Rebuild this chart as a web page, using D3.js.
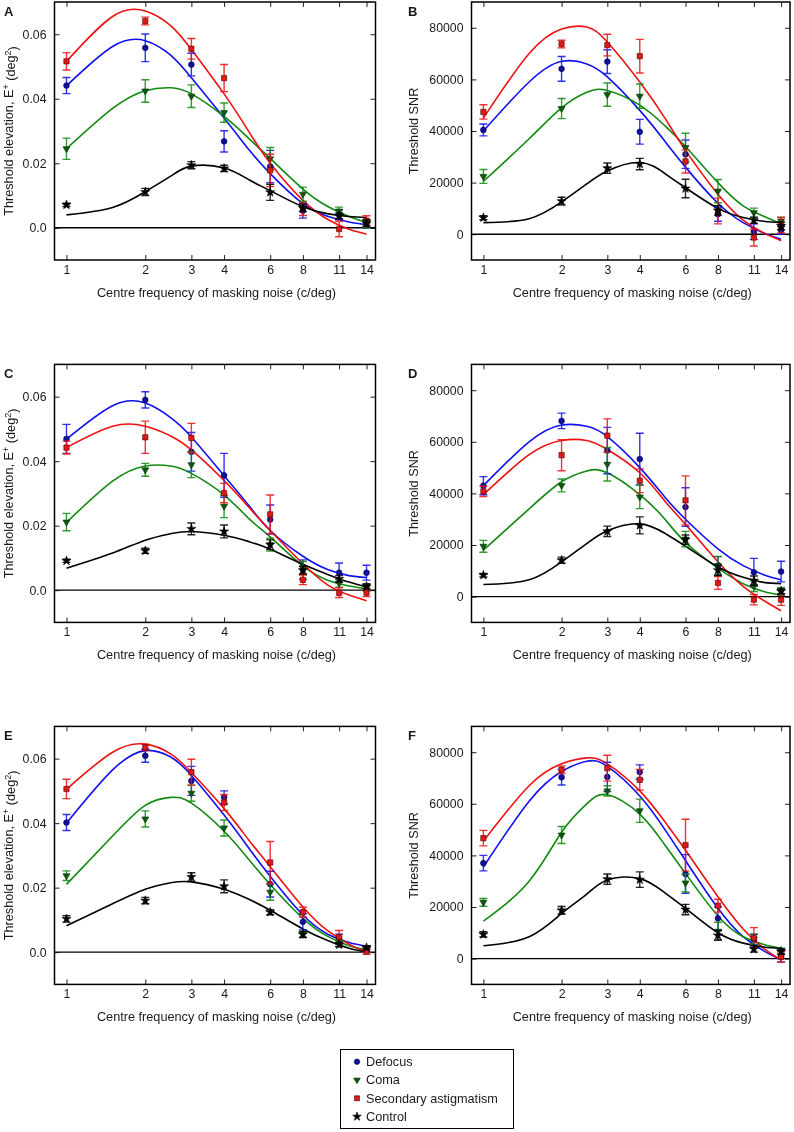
<!DOCTYPE html>
<html><head><meta charset="utf-8">
<script src="https://cdn.jsdelivr.net/npm/d3@7"></script>
<style>
html,body{margin:0;padding:0;background:#fff;}
svg{will-change:transform;}
svg text{font-family:"Liberation Sans",Arial,sans-serif;fill:#1a1a1a;}
</style></head>
<body>
<svg id="chart" width="794" height="1132"></svg>
<script>
// ---------- data ----------
const freqs = [1, 2, 3, 4, 6, 8, 11, 14];
const fitFreqs = [1, 1.5, 2, 2.5, 3, 4, 5, 6, 8, 10, 12, 14];
const xTickValues = [1, 2, 3, 4, 6, 8, 11, 14];
const elevTicks = [0, 0.02, 0.04, 0.06];
const elevTickLabels = ["0.0", "0.02", "0.04", "0.06"];
const snrTicks = [0, 20000, 40000, 60000, 80000];
const snrTickLabels = ["0", "20000", "40000", "60000", "80000"];
const seriesNames = ["Defocus", "Coma", "Secondary astigmatism", "Control"];
const panelLetters = ["A", "B", "C", "D", "E", "F"];
const xTitle = "Centre frequency of masking noise (c/deg)";
const snrTitle = "Threshold SNR";

// Panel A (threshold elevation)
const aDefocus = [0.0441, 0.0558, 0.0506, 0.0268, 0.0190, 0.0053, 0.0040, 0.0012];
const aDefocusErr = [0.0025, 0.0043, 0.0035, 0.0033, 0.0050, 0.0023, 0.0015, 0.0012];
const aComa = [0.0245, 0.0424, 0.0408, 0.0357, 0.0214, 0.0104, 0.0052, 0.0012];
const aComaErr = [0.0033, 0.0035, 0.0035, 0.0030, 0.0035, 0.0022, 0.0012, 0.0012];
const aAstig = [0.0516, 0.0641, 0.0555, 0.0464, 0.0178, 0.0058, -0.0004, 0.0022];
const aAstigErr = [0.0027, 0.0012, 0.0032, 0.0042, 0.0050, 0.0020, 0.0024, 0.0015];
const aControl = [0.0071, 0.0111, 0.0194, 0.0184, 0.0110, 0.0061, 0.0037, 0.0014];
const aControlErr = [0.0005, 0.0011, 0.0011, 0.0010, 0.0025, 0.0011, 0.0009, 0.0010];
const aDefocusFit = [0.0440, 0.0562, 0.0580, 0.0535, 0.0465, 0.0340, 0.0240, 0.0168, 0.0075, 0.0035, 0.0018, 0.0010];
const aComaFit = [0.0245, 0.0370, 0.0425, 0.0434, 0.0415, 0.0345, 0.0275, 0.0215, 0.0120, 0.0065, 0.0035, 0.0017];
const aAstigFit = [0.0516, 0.0655, 0.0672, 0.0627, 0.0553, 0.0415, 0.0295, 0.0200, 0.0085, 0.0025, -0.0005, -0.0020];
const aControlFit = [0.0040, 0.0063, 0.0112, 0.0160, 0.0191, 0.0185, 0.0148, 0.0115, 0.0065, 0.0043, 0.0035, 0.0032];

// Panel B (SNR)
const bDefocus = [40400, 64100, 66900, 39700, 31000, 7700, 1000, 1500];
const bDefocusErr = [2300, 4800, 4600, 4800, 5500, 2700, 3000, 1500];
const bComa = [22400, 48700, 54100, 53500, 33600, 16700, 8300, 5100];
const bComaErr = [2700, 3900, 4500, 4700, 5500, 4500, 1800, 1500];
const bAstig = [47400, 73700, 73300, 69000, 28200, 9000, -1300, 3500];
const bAstigErr = [2800, 1500, 4200, 6500, 4500, 5000, 3300, 3000];
const bControl = [6400, 12800, 25600, 27200, 17700, 9200, 5400, 3200];
const bControlErr = [800, 1500, 2000, 2200, 3600, 1800, 1200, 1500];
const bDefocusFit = [40000, 59000, 67000, 66000, 61000, 48000, 36000, 26000, 12000, 4500, 500, -2000];
const bComaFit = [20500, 37000, 49000, 55000, 55700, 50000, 42000, 34000, 20000, 11000, 7000, 4000];
const bAstigFit = [45000, 70000, 79500, 80300, 74500, 59000, 45000, 32500, 15500, 5500, 500, -2500];
const bControlFit = [4500, 6000, 12500, 19500, 24500, 27800, 23500, 18000, 10000, 6500, 5000, 4500];

// Panel C (threshold elevation)
const cDefocus = [0.0469, 0.0590, 0.0429, 0.0356, 0.0219, 0.0064, 0.0054, 0.0054];
const cDefocusErr = [0.0045, 0.0025, 0.0060, 0.0068, 0.0045, 0.0030, 0.0030, 0.0023];
const cComa = [0.0211, 0.0373, 0.0389, 0.0260, 0.0141, 0.0069, 0.0021, 0.0007];
const cComaErr = [0.0027, 0.0020, 0.0040, 0.0035, 0.0020, 0.0020, 0.0012, 0.0010];
const cAstig = [0.0442, 0.0474, 0.0472, 0.0301, 0.0235, 0.0032, -0.0008, -0.0008];
const cAstigErr = [0.0020, 0.0050, 0.0045, 0.0030, 0.0060, 0.0015, 0.0015, 0.0012];
const cControl = [0.0091, 0.0122, 0.0190, 0.0182, 0.0141, 0.0062, 0.0035, 0.0012];
const cControlErr = [0.0005, 0.0008, 0.0018, 0.0020, 0.0015, 0.0012, 0.0010, 0.0008];
const cDefocusFit = [0.0468, 0.0572, 0.0580, 0.0535, 0.0475, 0.0355, 0.0260, 0.0185, 0.0105, 0.0063, 0.0045, 0.0039];
const cComaFit = [0.0210, 0.0338, 0.0385, 0.0385, 0.0362, 0.0295, 0.0220, 0.0165, 0.0075, 0.0030, 0.0013, 0.0005];
const cAstigFit = [0.0442, 0.0508, 0.0508, 0.0478, 0.0435, 0.0340, 0.0255, 0.0185, 0.0082, 0.0015, -0.0015, -0.0033];
const cControlFit = [0.0068, 0.0115, 0.0155, 0.0175, 0.0182, 0.0170, 0.0150, 0.0127, 0.0080, 0.0048, 0.0025, 0.0010];

// Panel D (SNR)
const dDefocus = [43000, 68100, 56600, 53300, 34700, 12000, 9400, 9700];
const dDefocusErr = [3500, 3000, 9000, 10000, 7500, 3500, 5400, 4000];
const dComa = [19500, 43100, 51300, 38600, 22300, 12000, 4000, 2000];
const dComaErr = [2300, 2500, 6500, 4500, 3000, 3600, 2000, 1500];
const dAstig = [40800, 54800, 62400, 44900, 37300, 5300, -1200, -1200];
const dAstigErr = [2000, 6000, 6500, 4600, 9500, 2500, 2000, 2200];
const dControl = [8300, 14100, 25300, 27600, 22100, 10200, 6200, 2100];
const dControlErr = [700, 1200, 2000, 3300, 1800, 2000, 1800, 1000];
const dDefocusFit = [43000, 60000, 66500, 66000, 62000, 50000, 38500, 30000, 18500, 12000, 8500, 6500];
const dComaFit = [18000, 34000, 44500, 48700, 48000, 39500, 30000, 21000, 11000, 5000, 2000, 500];
const dAstigFit = [39500, 55000, 60500, 60500, 57000, 48000, 37000, 28000, 13500, 4000, -1500, -5500];
const dControlFit = [4700, 6500, 13500, 20500, 25500, 28200, 24500, 19500, 11500, 7500, 5500, 5000];

// Panel E (threshold elevation)
const eDefocus = [0.0402, 0.0609, 0.0531, 0.0480, 0.0211, 0.0094, 0.0041, 0.0010];
const eDefocusErr = [0.0025, 0.0020, 0.0045, 0.0020, 0.0040, 0.0025, 0.0015, 0.0010];
const eComa = [0.0237, 0.0413, 0.0493, 0.0385, 0.0186, 0.0055, 0.0027, 0.0008];
const eComaErr = [0.0015, 0.0025, 0.0025, 0.0025, 0.0025, 0.0010, 0.0010, 0.0008];
const eAstig = [0.0506, 0.0635, 0.0558, 0.0464, 0.0278, 0.0124, 0.0047, 0.0003];
const eAstigErr = [0.0030, 0.0010, 0.0040, 0.0025, 0.0065, 0.0015, 0.0020, 0.0010];
const eControl = [0.0103, 0.0160, 0.0233, 0.0204, 0.0124, 0.0055, 0.0023, 0.0014];
const eControlErr = [0.0010, 0.0010, 0.0013, 0.0020, 0.0008, 0.0009, 0.0006, 0.0006];
const eDefocusFit = [0.0400, 0.0565, 0.0625, 0.0605, 0.0548, 0.0425, 0.0320, 0.0235, 0.0115, 0.0055, 0.0030, 0.0018];
const eComaFit = [0.0210, 0.0360, 0.0455, 0.0480, 0.0462, 0.0375, 0.0285, 0.0210, 0.0105, 0.0048, 0.0020, 0.0008];
const eAstigFit = [0.0505, 0.0620, 0.0645, 0.0615, 0.0557, 0.0445, 0.0345, 0.0265, 0.0140, 0.0065, 0.0025, 0.0000];
const eControlFit = [0.0082, 0.0150, 0.0195, 0.0215, 0.0218, 0.0195, 0.0163, 0.0130, 0.0072, 0.0035, 0.0012, 0.0001];

// Panel F (SNR)
const fDefocus = [37000, 70300, 70400, 72300, 32800, 15600, 7400, 900];
const fDefocusErr = [3000, 3000, 5700, 2800, 7500, 4500, 2000, 2200];
const fComa = [21800, 47900, 65000, 57300, 29300, 10600, 7600, 2800];
const fComaErr = [1500, 3300, 2000, 4500, 3500, 3500, 2000, 1200];
const fAstig = [46700, 73200, 73800, 69300, 44000, 20500, 8000, 650];
const fAstigErr = [3000, 1500, 5000, 4000, 10000, 2500, 4000, 2000];
const fControl = [9400, 18700, 30800, 30600, 19000, 9000, 3700, 2800];
const fControlErr = [1000, 1500, 2000, 3000, 2000, 1800, 1200, 1000];
const fDefocusFit = [35500, 61000, 72500, 76500, 74500, 63000, 50000, 38000, 19500, 8500, 3000, -500];
const fComaFit = [14500, 30000, 49000, 60000, 63500, 56000, 44000, 33000, 16500, 8500, 5500, 4000];
const fAstigFit = [45500, 67000, 75500, 77800, 75500, 65000, 53000, 42000, 24000, 11500, 4000, -500];
const fControlFit = [5000, 8500, 17500, 25000, 30500, 31000, 25500, 19500, 10000, 6000, 4500, 4000];

// ---------- assemble ----------
const panels = [
  {kind:"elev", s:[[aDefocus,aDefocusErr,aDefocusFit],[aComa,aComaErr,aComaFit],[aAstig,aAstigErr,aAstigFit],[aControl,aControlErr,aControlFit]]},
  {kind:"snr",  s:[[bDefocus,bDefocusErr,bDefocusFit],[bComa,bComaErr,bComaFit],[bAstig,bAstigErr,bAstigFit],[bControl,bControlErr,bControlFit]]},
  {kind:"elev", s:[[cDefocus,cDefocusErr,cDefocusFit],[cComa,cComaErr,cComaFit],[cAstig,cAstigErr,cAstigFit],[cControl,cControlErr,cControlFit]]},
  {kind:"snr",  s:[[dDefocus,dDefocusErr,dDefocusFit],[dComa,dComaErr,dComaFit],[dAstig,dAstigErr,dAstigFit],[dControl,dControlErr,dControlFit]]},
  {kind:"elev", s:[[eDefocus,eDefocusErr,eDefocusFit],[eComa,eComaErr,eComaFit],[eAstig,eAstigErr,eAstigFit],[eControl,eControlErr,eControlFit]]},
  {kind:"snr",  s:[[fDefocus,fDefocusErr,fDefocusFit],[fComa,fComaErr,fComaFit],[fAstig,fAstigErr,fAstigFit],[fControl,fControlErr,fControlFit]]}
];

const lineColors = ["#1010f0", "#118a11", "#ee1111", "#000000"];
const markerFill = ["#10109a", "#0d5a0d", "#e01818", "#000000"];
const markerStroke = ["#000060", "#003000", "#500000", "#000000"];

const svg = d3.select("#chart");
const colLeft = [54.5, 471.5];
const colWidth = [321, 318.5];
const rowTop = [2, 364.4, 726.4];
const plotH = 258;

function markerPath(i, scale) {
  const sc = scale || 1;
  if (i === 0) return d3.symbol(d3.symbolCircle, 26 * sc)();
  if (i === 1) return d3.symbol(d3.symbolTriangle, 21 * sc)();
  if (i === 2) return d3.symbol(d3.symbolSquare, 28 * sc)();
  return d3.symbol(d3.symbolStar, 26 * sc)();
}

panels.forEach((p, pi) => {
  const col = pi % 2, row = Math.floor(pi / 2);
  const W = colWidth[col];
  const g = svg.append("g").attr("transform", `translate(${colLeft[col]},${rowTop[row]})`);
  const x = d3.scaleLog().domain([0.9, 15.15]).range([0, W]);
  const y = p.kind === "elev"
    ? d3.scaleLinear().domain([-0.01, 0.07]).range([plotH, 0])
    : d3.scaleLinear().domain([-10000, 90000]).range([plotH, 0]);
  const ticks = p.kind === "elev" ? elevTicks : snrTicks;
  const tlabels = p.kind === "elev" ? elevTickLabels : snrTickLabels;

  const clipId = "clip" + pi;
  g.append("clipPath").attr("id", clipId).append("rect").attr("width", W).attr("height", plotH);

  // axes (inward ticks)
  const left = g.append("g").call(d3.axisLeft(y).tickValues(ticks).tickFormat((d, i) => tlabels[i]).tickSize(-5).tickPadding(8));
  const right = g.append("g").attr("transform", `translate(${W},0)`).call(d3.axisRight(y).tickValues(ticks).tickFormat("").tickSize(-5));
  const bottom = g.append("g").attr("transform", `translate(0,${plotH})`).call(d3.axisBottom(x).tickValues(xTickValues).tickFormat(d3.format("d")).tickSize(-5).tickPadding(5));
  const top = g.append("g").call(d3.axisTop(x).tickValues(xTickValues).tickFormat("").tickSize(-5));
  [left, right, bottom, top].forEach(a => {
    a.select(".domain").remove();
    a.selectAll(".tick line").attr("stroke", "#222").attr("stroke-width", 1);
    a.selectAll(".tick text").style("font-size", "12.3px").attr("fill", "#1a1a1a");
  });

  // zero line
  g.append("line").attr("x1", 0).attr("x2", W).attr("y1", y(0)).attr("y2", y(0))
    .attr("stroke", "#000").attr("stroke-width", 1.4);

  const plot = g.append("g").attr("clip-path", `url(#${clipId})`);
  const line = d3.line().x((d, i) => x(fitFreqs[i])).y(d => y(d)).curve(d3.curveNatural);

  // fit curves
  p.s.forEach((s, si) => {
    plot.append("path").attr("d", line(s[2])).attr("fill", "none")
      .attr("stroke", lineColors[si]).attr("stroke-width", 1.6);
  });
  // error bars and markers
  p.s.forEach((s, si) => {
    const eg = plot.append("g").attr("stroke", lineColors[si]).attr("stroke-width", 1.4).attr("stroke-opacity", 0.85);
    s[0].forEach((v, k) => {
      const cx = x(freqs[k]);
      const y1 = y(v - s[1][k]), y2 = y(v + s[1][k]);
      eg.append("line").attr("x1", cx).attr("x2", cx).attr("y1", y1).attr("y2", y2);
      eg.append("line").attr("x1", cx - 4).attr("x2", cx + 4).attr("y1", y1).attr("y2", y1);
      eg.append("line").attr("x1", cx - 4).attr("x2", cx + 4).attr("y1", y2).attr("y2", y2);
    });
    plot.append("g").selectAll("path").data(s[0]).join("path")
      .attr("d", markerPath(si))
      .attr("transform", (d, k) => `translate(${x(freqs[k])},${y(d)})` + (si === 1 ? " rotate(180)" : ""))
      .attr("fill", markerFill[si]).attr("stroke", markerStroke[si]).attr("stroke-width", 0.6);
  });

  // frame
  g.append("rect").attr("width", W).attr("height", plotH).attr("fill", "none")
    .attr("stroke", "#000").attr("stroke-width", 1.5);

  // x title
  g.append("text").attr("x", x(Math.sqrt(14))).attr("y", plotH + 36.5).attr("text-anchor", "middle")
    .style("font-size", "12.7px").text(xTitle);

  // y title
  if (p.kind === "elev") {
    const t = g.append("text").attr("transform", `translate(-45.5,${plotH / 2}) rotate(-90)`)
      .attr("text-anchor", "middle").attr("dy", "0.35em").style("font-size", "12.7px");
    t.append("tspan").text("Threshold elevation, E");
    t.append("tspan").attr("dy", "-0.45em").style("font-size", "9px").text("+");
    t.append("tspan").attr("dy", "0.45em").text(" (deg");
    t.append("tspan").attr("dy", "-0.45em").style("font-size", "9px").text("2");
    t.append("tspan").attr("dy", "0.45em").text(")");
  } else {
    g.append("text").attr("transform", `translate(-57.5,${plotH / 2}) rotate(-90)`)
      .attr("text-anchor", "middle").attr("dy", "0.35em").style("font-size", "12.7px").text(snrTitle);
  }

  // panel letter
  g.append("text").attr("x", col === 0 ? -50.5 : -63.5).attr("y", 13.7)
    .style("font-size", "13px").style("font-weight", "bold").text(panelLetters[pi]);
});

// legend
const lg = svg.append("g").attr("transform", "translate(340.5,1049.5)");
lg.append("rect").attr("width", 173).attr("height", 79).attr("fill", "#fff").attr("stroke", "#000").attr("stroke-width", 1);
seriesNames.forEach((name, i) => {
  const yy = 12.2 + i * 18.3;
  lg.append("path").attr("d", markerPath(i, 0.9))
    .attr("transform", `translate(16.5,${yy})` + (i === 1 ? " rotate(180)" : ""))
    .attr("fill", markerFill[i]).attr("stroke", markerStroke[i]).attr("stroke-width", 0.6);
  lg.append("text").attr("x", 25.5).attr("y", yy).attr("dy", "0.35em").style("font-size", "12.7px").text(name);
});
</script>
</body></html>
